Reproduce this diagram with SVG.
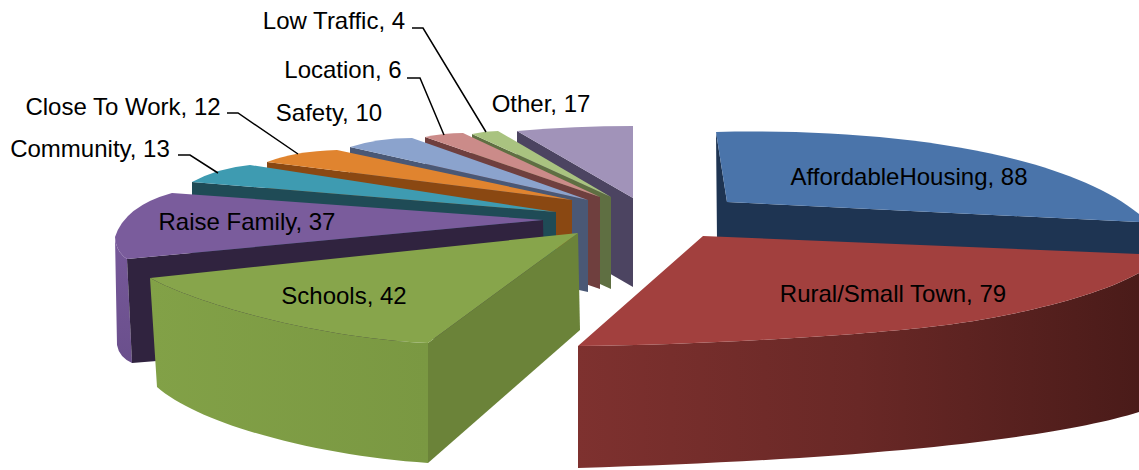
<svg xmlns="http://www.w3.org/2000/svg" width="1139" height="470" viewBox="0 0 1139 470">
<style>
text{font-family:"Liberation Sans",Arial,sans-serif;font-size:24px;fill:#000;text-anchor:middle}
.lead{fill:none;stroke:#000;stroke-width:1.5}
</style>
<defs>
<linearGradient id="redWall" x1="0" y1="0" x2="1" y2="0">
<stop offset="0" stop-color="#7e312f"/><stop offset="0.5" stop-color="#692826"/><stop offset="1" stop-color="#4a1b19"/>
</linearGradient>
<linearGradient id="greenWall" x1="0" y1="0" x2="1" y2="0">
<stop offset="0" stop-color="#82a147"/><stop offset="1" stop-color="#7a9842"/>
</linearGradient>
<linearGradient id="purpleWall" x1="0" y1="0" x2="0" y2="1">
<stop offset="0" stop-color="#77599a"/><stop offset="1" stop-color="#6a4f8c"/>
</linearGradient>
</defs>
<rect width="1139" height="470" fill="#fff"/>

<g id="slice-other">
<path d="M517,131 L633,198 L633,287 L517,220 Z" fill="#4c4461"/>
<path d="M517,131 Q575,126 633,126 L633,198 Z" fill="#a193b9"/>
<text x="541" y="112">Other, 17</text>
</g>
<g id="slice-lowtraffic">
<path d="M472,134 L611,197 L611,289 L472,226 Z" fill="#5f6f42"/>
<path d="M472,134 Q485,131 498,131 L611,197 Z" fill="#a9c380"/>
<text x="334" y="29">Low Traffic, 4</text>
</g>
<g id="slice-location">
<path d="M425,137 L600,197 L600,289 L425,229 Z" fill="#6f3f3e"/>
<path d="M425,137 Q444,133 463,133 L600,197 Z" fill="#cb8b89"/>
<text x="343" y="78">Location, 6</text>
</g>
<g id="slice-safety">
<path d="M350,147 L588,200 L588,292 L350,239 Z" fill="#4a5875"/>
<path d="M350,147 Q378,138 412,138 L588,200 Z" fill="#8ba3cd"/>
<text x="329" y="121">Safety, 10</text>
</g>
<g id="slice-closetowork">
<path d="M267,162 L572,200 L572,292 L267,254 Z" fill="#8a4812"/>
<path d="M267,162 Q295,151 337,150 L572,200 Z" fill="#e0842f"/>
<text x="123" y="115">Close To Work, 12</text>
</g>
<g id="slice-community">
<path d="M192,182 L556,212 L556,302 L192,272 Z" fill="#1f4b56"/>
<path d="M192,182 Q218,168 250,165 L556,212 Z" fill="#3e9bb1"/>
<text x="90" y="157">Community, 13</text>
</g>
<g id="slice-raisefamily">
<path d="M115,237 Q116,252 127,259 L132,363 Q119,357 117,345 Z" fill="url(#purpleWall)"/>
<path d="M127,259 L543,220 L545,330 L132,363 Z" fill="#30233f"/>
<path d="M543,220 L172,193 Q125,206 115,237 Q116,252 127,259 Z" fill="#7a5c9c"/>
<text x="247" y="230">Raise Family, 37</text>
</g>
<g id="slice-schools">
<path d="M150,278 C200,305 320,338 428,343 L428,463 C320,456 200,425 157,387 Z" fill="url(#greenWall)"/>
<path d="M578,233 L580,330 L428,463 L428,343 Z" fill="#6b8339"/>
<path d="M150,278 L578,233 L428,343 C320,338 200,305 150,278 Z" fill="#87a54b"/>
<text x="344" y="304">Schools, 42</text>
</g>
<g id="slice-affordablehousing">
<path d="M716,132 L727,202 L1139,222 L1139,257 L717,240 Z" fill="#1e3452"/>
<path d="M716,132 C880,128 1060,150 1139,214 L1139,222 L727,202 Z" fill="#4a74aa"/>
<text x="909" y="185">AffordableHousing, 88</text>
</g>
<g id="slice-rural">
<path d="M578,346 C700,345 850,336 929,327 C1000,319 1090,300 1139,273 L1139,412 C1050,440 850,460 578,468 Z" fill="url(#redWall)"/>
<path d="M703,236 L1139,254 L1139,273 C1090,300 1000,319 929,327 C850,336 700,345 578,346 Z" fill="#a2403e"/>
<text x="893" y="302">Rural/Small Town, 79</text>
</g>

<g id="connectors">
<polyline class="lead" points="412,28 423,28 486,132"/>
<polyline class="lead" points="407,78 420,78 444,135"/>
<polyline class="lead" points="227,113 238,113 298,154"/>
<polyline class="lead" points="178,155 190,155 218,173"/>
</g>
</svg>
